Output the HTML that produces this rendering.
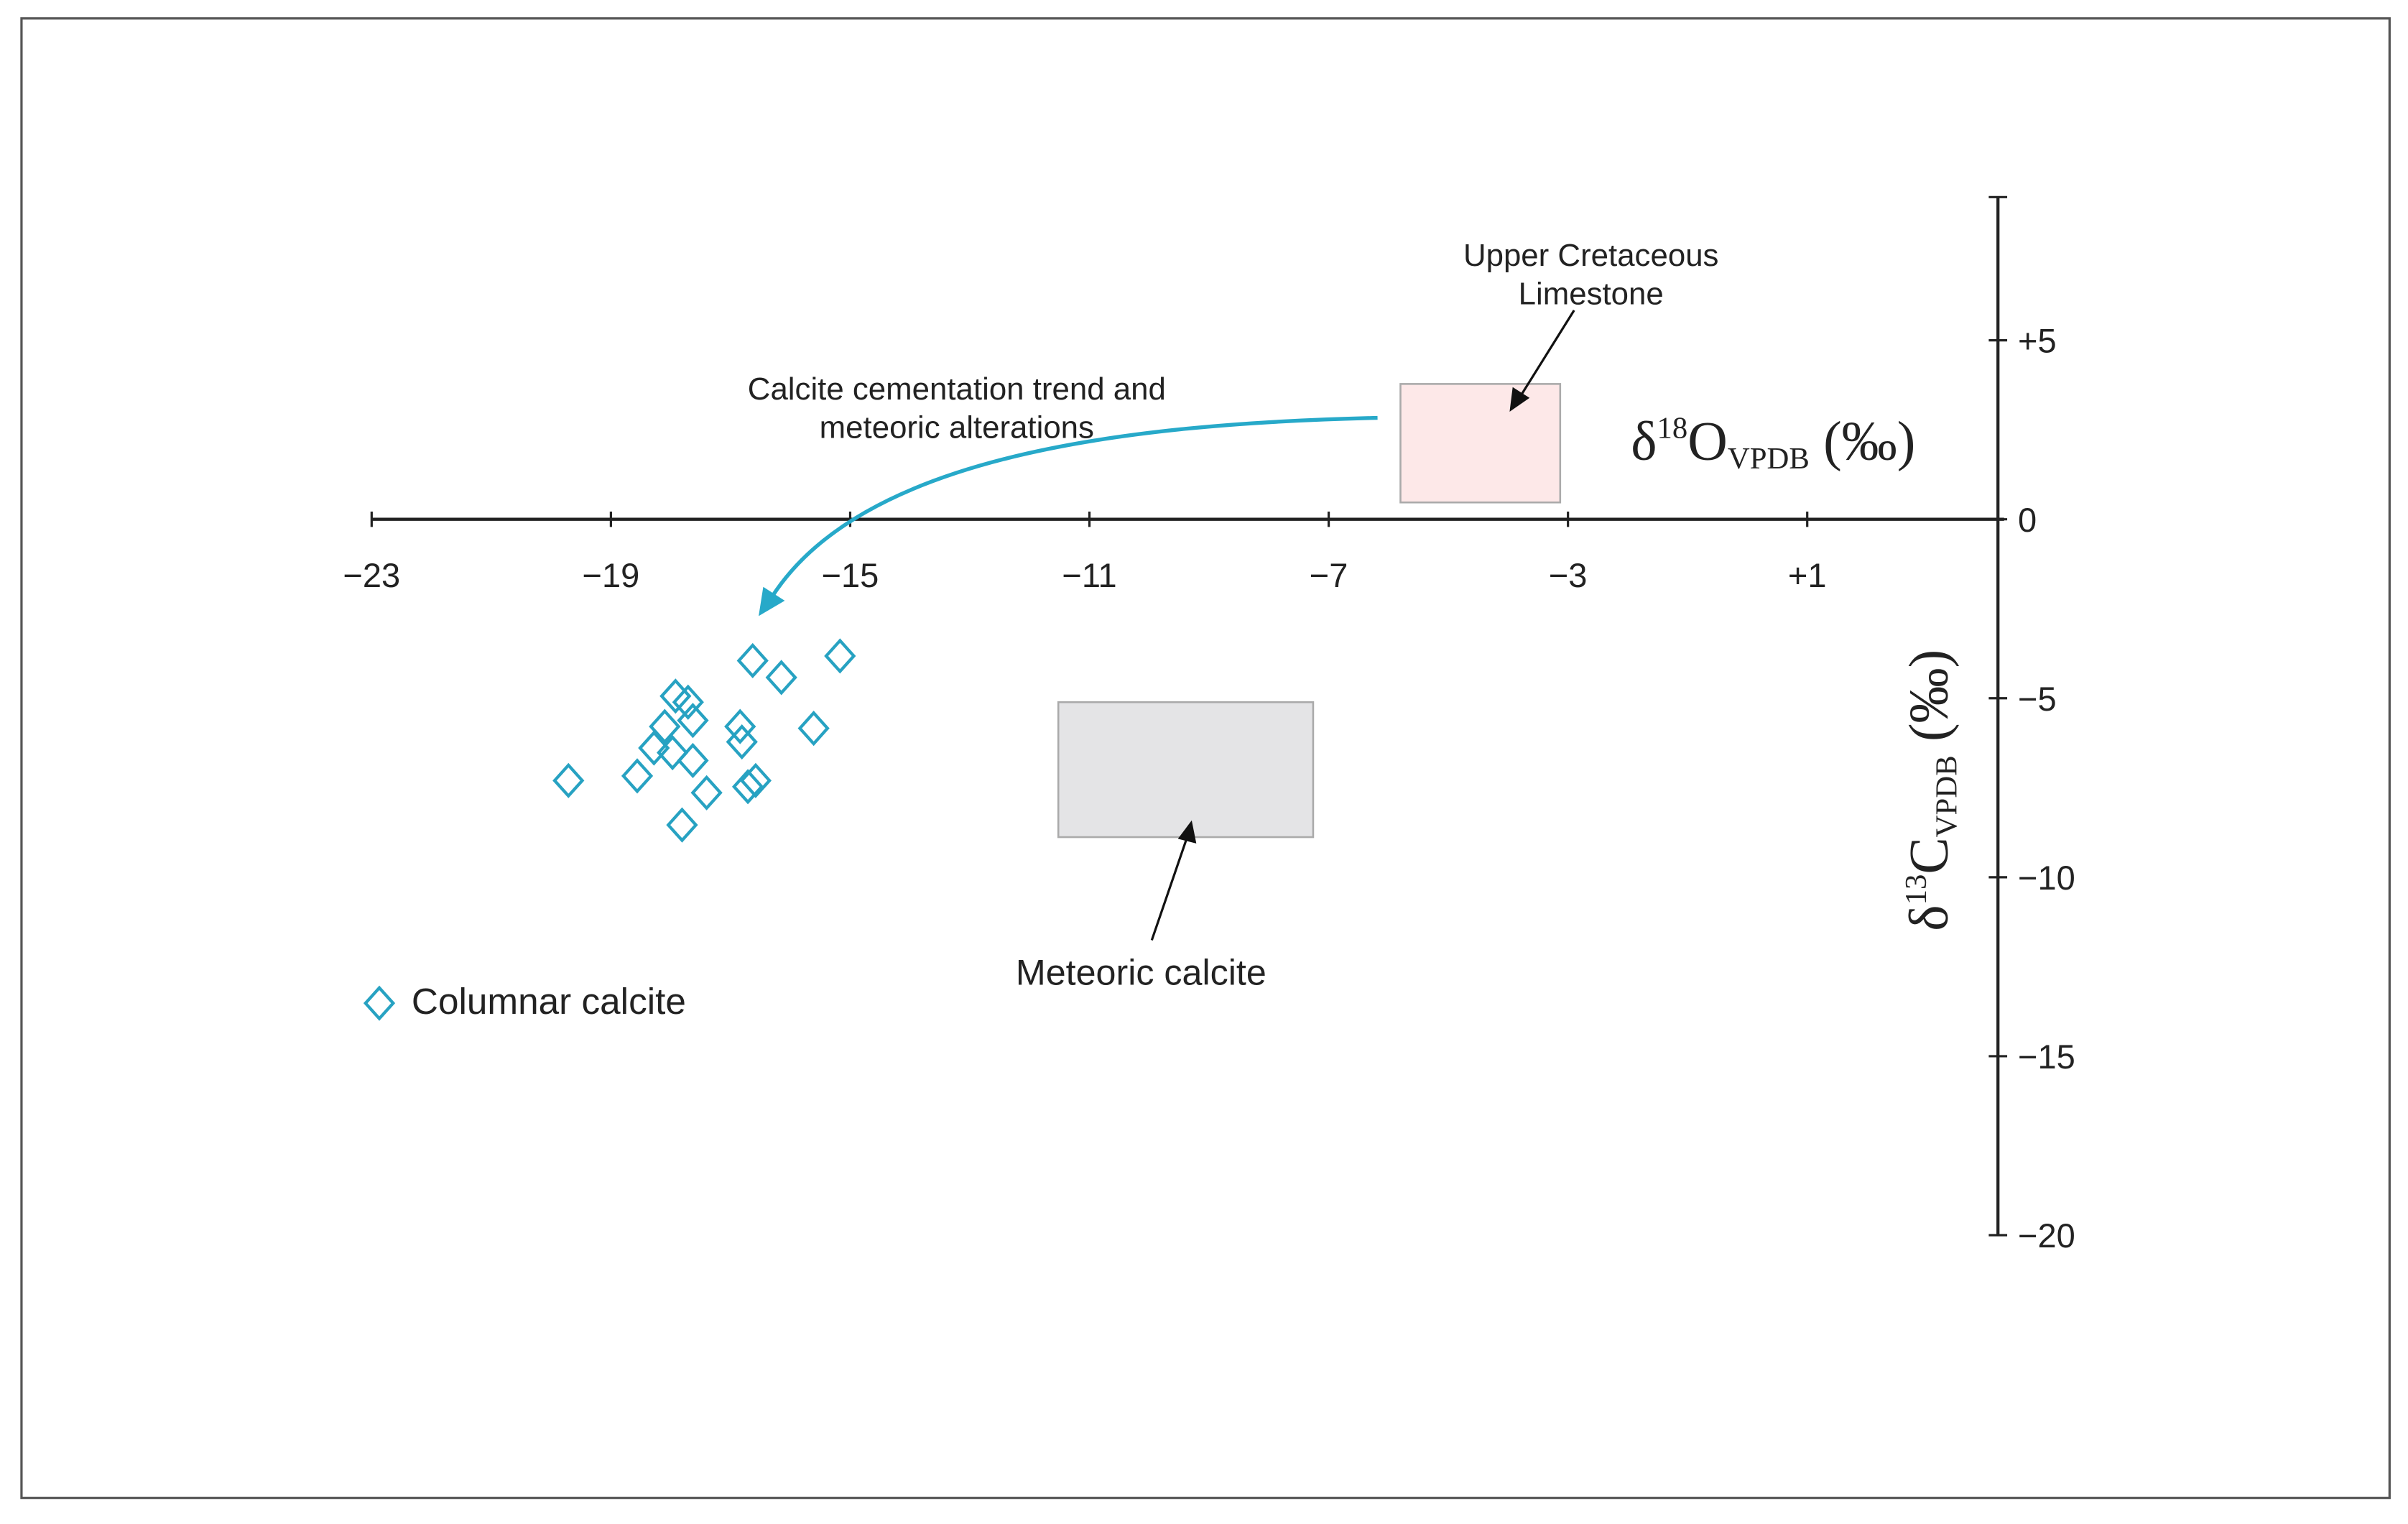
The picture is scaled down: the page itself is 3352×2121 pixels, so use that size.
<!DOCTYPE html>
<html><head><meta charset="utf-8"><style>
html,body{margin:0;padding:0;background:#fff}
svg{display:block}
text{font-family:"Liberation Sans",sans-serif;fill:#222}
.serif{font-family:"Liberation Serif",serif}
</style></head><body>
<svg id="chart" width="3352" height="2121" viewBox="0 0 1568 992" preserveAspectRatio="none" xmlns="http://www.w3.org/2000/svg">
<rect x="14" y="12" width="1542" height="963" fill="#fff" stroke="#555" stroke-width="1.5"/>
<g id="boxes"></g>
<g id="axes"></g>
<g id="points"></g>
<path d="M897,272 C720,276 560,300 503,388" fill="none" stroke="#27a9c9" stroke-width="2.5"/>
<polygon points="494,401 497,382 511,391" fill="#27a9c9"/>
<text x="623" y="260" font-size="20.5" text-anchor="middle">Calcite cementation trend and</text>
<text x="623" y="285" font-size="20.5" text-anchor="middle">meteoric alterations</text>
<text x="1036" y="173" font-size="20.5" text-anchor="middle">Upper Cretaceous</text>
<text x="1036" y="198" font-size="20.5" text-anchor="middle">Limestone</text>
<line x1="1025" y1="202" x2="990" y2="258" stroke="#111" stroke-width="1.5"/>
<polygon points="983,268 985,252 996,259" fill="#111"/>
<text x="743" y="641" font-size="23.5" text-anchor="middle">Meteoric calcite</text>
<line x1="750" y1="612" x2="773" y2="545" stroke="#111" stroke-width="1.5"/>
<polygon points="776,534 779,549 767,546" fill="#111"/>
<text class="serif" x="1062" y="299" font-size="36">δ<tspan font-size="20" dy="-14">18</tspan><tspan dy="14">O</tspan><tspan font-size="20" dy="6">VPDB</tspan><tspan dy="-6"> (‰)</tspan></text>
<text class="serif" transform="translate(1268,606) rotate(-90)" font-size="36">δ<tspan font-size="20" dy="-14">13</tspan><tspan dy="14">C</tspan><tspan font-size="20" dy="6">VPDB</tspan><tspan dy="-6"> (‰)</tspan></text>
<path d="M247,643 L256,653 L247,663 L238,653 Z" fill="none" stroke="#27a2c2" stroke-width="2"/>
<text x="268" y="660" font-size="24">Columnar calcite</text>
</svg>
<script>
const xTicks=[-23,-19,-15,-11,-7,-3,1];
const xTickLabels=["−23","−19","−15","−11","−7","−3","+1"];
const yTicks=[9,5,0,-5,-10,-15,-20];
const yTickLabels=["","+5","0","−5","−10","−15","−20"];
const ptX=[-16.63,-15.17,-16.15,-17.92,-17.71,-17.63,-18.10,-18.28,-17.97,-16.84,-16.81,-15.61,-17.63,-19.71,-18.56,-17.40,-16.71,-16.58,-17.81];
const ptY=[-3.95,-3.82,-4.42,-4.94,-5.11,-5.62,-5.79,-6.39,-6.52,-5.79,-6.22,-5.84,-6.74,-7.30,-7.17,-7.64,-7.47,-7.30,-8.54];
const boxNames=["upper-cretaceous-limestone-box","meteoric-calcite-box"];
const boxX0=[-5.80,-11.52],boxX1=[-3.13,-7.26],boxY0=[3.78,-5.11],boxY1=[0.47,-8.88];
const boxFill=["#fde8e8","#e4e4e6"];
const NS="http://www.w3.org/2000/svg";
const xs=v=>242+(v+23)*38.95;
const ys=v=>338-v*23.3;
const YAX=1301;
function mk(tag,attrs,parent){const e=document.createElementNS(NS,tag);for(const k in attrs)e.setAttribute(k,attrs[k]);parent.appendChild(e);return e;}
const bx=document.getElementById('boxes');
boxNames.forEach((n,i)=>{const r=mk('rect',{x:xs(boxX0[i]),y:ys(boxY0[i]),width:xs(boxX1[i])-xs(boxX0[i]),height:ys(boxY1[i])-ys(boxY0[i]),fill:boxFill[i],stroke:"#aaa","stroke-width":1.2},bx);

});
const ax=document.getElementById('axes');
let l=mk('line',{x1:xs(-23),y1:ys(0),x2:YAX+4,y2:ys(0),stroke:"#222","stroke-width":2},ax);


l=mk('line',{x1:YAX,y1:ys(9),x2:YAX,y2:ys(-20),stroke:"#222","stroke-width":2},ax);


xTicks.forEach((v,i)=>{const t=mk('line',{x1:xs(v),y1:ys(0)-5,x2:xs(v),y2:ys(0)+5,stroke:"#222","stroke-width":1.5},ax);


const tx=mk('text',{x:xs(v),y:ys(0)+44,"font-size":22,"text-anchor":"middle"},ax);tx.textContent=xTickLabels[i];

});
yTicks.forEach((v,i)=>{const t=mk('line',{x1:YAX-6,y1:ys(v),x2:YAX+6,y2:ys(v),stroke:"#222","stroke-width":1.5},ax);


if(yTickLabels[i]){const tx=mk('text',{x:YAX+13,y:ys(v)+8,"font-size":22},ax);tx.textContent=yTickLabels[i];

}});
const pg=document.getElementById('points');
ptX.forEach((v,i)=>{const cx=xs(v),cy=ys(ptY[i]);const p=mk('path',{d:`M${cx},${cy-10} L${cx+9},${cy} L${cx},${cy+10} L${cx-9},${cy} Z`,fill:"none",stroke:"#27a2c2","stroke-width":2},pg);

});
</script>
</body></html>
